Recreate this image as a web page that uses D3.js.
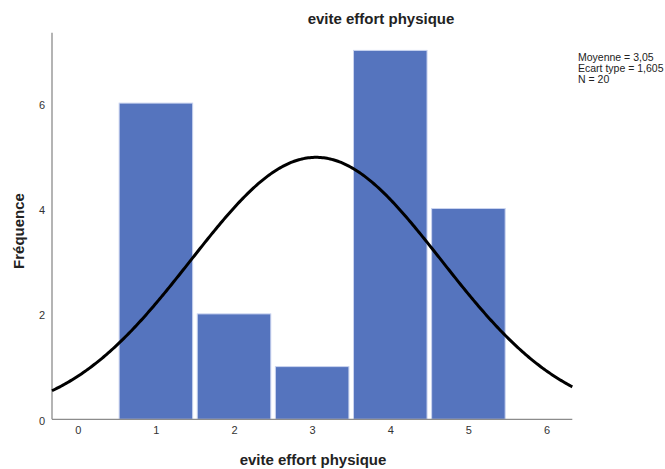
<!DOCTYPE html>
<html>
<head>
<meta charset="utf-8">
<script src="https://cdn.jsdelivr.net/npm/d3@7"></script>
<style>
  body { margin: 0; background: #fff; }
  svg { display: block; font-family: "Liberation Sans", Arial, sans-serif; }
</style>
</head>
<body>
<svg id="chart" width="665" height="469"></svg>
<script>
// Histogram of "evite effort physique" with fitted normal curve
const categories = [1, 2, 3, 4, 5];
const frequencies = [6, 2, 1, 7, 4];
const xTicks = [0, 1, 2, 3, 4, 5, 6];
const yTicks = [0, 2, 4, 6];
const meanValue = 3.05;
const sdValue = 1.605;
const nValue = 20;
const legendLines = ["Moyenne = 3,05", "Ecart type = 1,605", "N = 20"];
const titleText = "evite effort physique";
const xLabel = "evite effort physique";
const yLabel = "Fréquence";

const svg = d3.select("#chart");
const plotLeft = 52, plotRight = 572.3, plotTop = 32.7, plotBottom = 419.3;

const x = d3.scaleLinear().domain([-0.33, 6.33]).range([plotLeft, plotRight]);
const y = d3.scaleLinear().domain([0, 7.336]).range([plotBottom, plotTop]);

// bars
const inset = 2.3;
svg.append("g").selectAll("rect")
  .data(categories.map((c, i) => ({ c, f: frequencies[i] })))
  .join("rect")
  .attr("x", d => x(d.c - 0.5) + inset)
  .attr("width", d => x(d.c + 0.5) - x(d.c - 0.5) - 2 * inset)
  .attr("y", d => y(d.f))
  .attr("height", d => y(0) - y(d.f))
  .attr("fill", "#5574be")
  .attr("stroke", "#c9d3ef")
  .attr("stroke-width", 1);

// axes
const yAxis = svg.append("g").attr("transform", `translate(${plotLeft},0)`)
  .call(d3.axisLeft(y).tickValues(yTicks).tickFormat(d3.format("d")).tickSize(0).tickPadding(7));
yAxis.select(".domain").attr("stroke", "#8c8c8c").attr("stroke-width", 1.3)
  .attr("d", `M0,${plotTop}V${plotBottom}`);
yAxis.selectAll("text").attr("font-size", 11).attr("fill", "#333")
  .attr("font-family", "Liberation Sans, Arial, sans-serif").attr("dy", "0.45em");

const xAxis = svg.append("g").attr("transform", `translate(0,${plotBottom})`)
  .call(d3.axisBottom(x).tickValues(xTicks).tickFormat(d3.format("d")).tickSize(0).tickPadding(7));
xAxis.select(".domain").attr("stroke", "#8c8c8c").attr("stroke-width", 1.3)
  .attr("d", `M${plotLeft},0H${plotRight}`);
xAxis.selectAll("text").attr("font-size", 11).attr("fill", "#333")
  .attr("font-family", "Liberation Sans, Arial, sans-serif");

// normal curve scaled to counts (bin width 1)
const pdf = v => nValue / (sdValue * Math.sqrt(2 * Math.PI)) *
  Math.exp(-0.5 * Math.pow((v - meanValue) / sdValue, 2));
const xs = d3.range(x.domain()[0], x.domain()[1] + 0.001, 0.02);
svg.append("path")
  .datum(xs)
  .attr("fill", "none")
  .attr("stroke", "#000")
  .attr("stroke-width", 3)
  .attr("d", d3.line().x(v => x(v)).y(v => y(pdf(v))));

// title and axis titles
svg.append("text").attr("x", 381).attr("y", 24).attr("text-anchor", "middle")
  .attr("font-size", 15).attr("font-weight", "bold").attr("fill", "#222").text(titleText);
svg.append("text").attr("x", 313).attr("y", 465).attr("text-anchor", "middle")
  .attr("font-size", 15).attr("font-weight", "bold").attr("fill", "#222").text(xLabel);
svg.append("text").attr("transform", "translate(24,231) rotate(-90)")
  .attr("text-anchor", "middle").attr("font-size", 15).attr("font-weight", "bold")
  .attr("fill", "#222").text(yLabel);

// summary statistics
svg.append("g").selectAll("text").data(legendLines).join("text")
  .attr("x", 578).attr("y", (d, i) => 61 + i * 11)
  .attr("font-size", 10.5).attr("fill", "#222").text(d => d);
</script>
</body>
</html>
